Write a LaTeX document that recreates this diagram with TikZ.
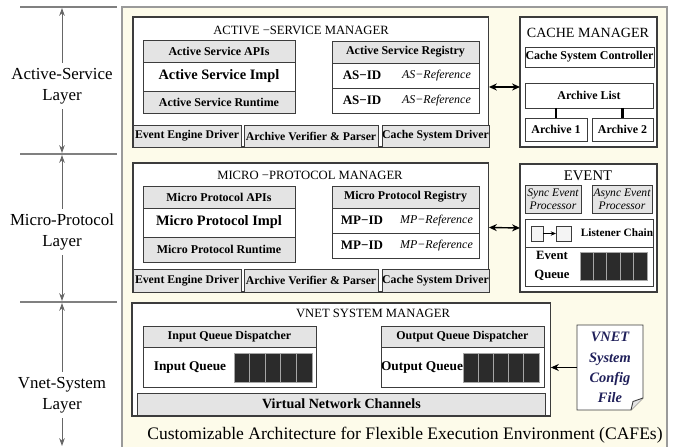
\documentclass[tikz,border=0pt]{standalone}
\usepackage{fontspec}
\setmainfont{Liberation Serif}
\usetikzlibrary{arrows.meta}

\definecolor{panelbg}{HTML}{FDFBEA}
\definecolor{panelline}{HTML}{9A9A9A}
\definecolor{boxline}{HTML}{3C3C3C}
\definecolor{hdrgray}{HTML}{E4E4E4}
\definecolor{cellblk}{HTML}{2B2B2B}
\definecolor{cfgblue}{HTML}{20205A}

\begin{document}
\begin{tikzpicture}[
    x=0.02cm, y=-0.02cm,
    every node/.style={inner sep=0pt, outer sep=0pt},
    mgrbox/.style={draw=boxline, fill=white, line width=0.6pt, anchor=north west},
    plainbox/.style={draw=boxline, fill=white, line width=0.5pt, anchor=north west},
    hdrbox/.style={draw=boxline, fill=hdrgray, line width=0.5pt, anchor=north west,
                   font=\fontsize{6.8}{8}\selectfont\bfseries},
    drvbox/.style={hdrbox, font=\fontsize{6.7}{8}\selectfont\bfseries},
    implbox/.style={plainbox, font=\fontsize{8.2}{10}\selectfont\bfseries},
    cachebox/.style={plainbox, font=\fontsize{6.8}{8}\selectfont\bfseries},
    procbox/.style={hdrbox, align=center, font=\fontsize{6.6}{7.2}\selectfont\itshape},
    qcell/.style={draw=gray!70, fill=cellblk, line width=0.4pt, anchor=north west},
    mgrtitle/.style={font=\fontsize{7.2}{9}\selectfont},
    idtext/.style={font=\fontsize{7.4}{9}\selectfont\bfseries},
    reftext/.style={font=\fontsize{6.8}{8}\selectfont\itshape},
    qtext/.style={font=\fontsize{7.6}{9}\selectfont\bfseries, align=center},
    laylabel/.style={font=\fontsize{9.6}{12}\selectfont, align=center, inner sep=3pt},
    layarrow/.style={draw=gray!80!black, line width=0.5pt, -{Stealth[length=4.5pt,width=3.2pt]}},
    sepline/.style={draw=gray, line width=0.6pt},
    dblarrow/.style={line width=0.8pt, {Stealth[length=4.5pt,width=4pt]}-{Stealth[length=4.5pt,width=4pt]}}
  ]
  \useasboundingbox (0,0) rectangle (674,447);

  % layer column
  \draw[sepline] (20,7) -- (117,7);
  \draw[sepline] (20,154) -- (117,154);
  \draw[sepline] (20,302) -- (117,302);
  \coordinate (s0) at (62,8);
  \coordinate (s1a) at (62,153);
  \coordinate (s1b) at (62,155);
  \coordinate (s2a) at (62,301);
  \coordinate (s2b) at (62,303);
  \coordinate (s3) at (62,446);
  \node[laylabel] (las) at (62,86) {Active-Service\\Layer};
  \node[laylabel] (lmp) at (62,232) {Micro-Protocol\\Layer};
  \node[laylabel] (lvs) at (62,395) {Vnet-System\\Layer};
  \draw[layarrow] (las.north) -- (s0);
  \draw[layarrow] (las.south) -- (s1a);
  \draw[layarrow] (lmp.north) -- (s1b);
  \draw[layarrow] (lmp.south) -- (s2a);
  \draw[layarrow] (lvs.north) -- (s2b);
  \draw[layarrow] (lvs.south) -- (s3);

  % panel
  \fill[panelbg] (122,7) rectangle (667,447);
  \draw[panelline, line width=0.8pt] (122,447) -- (122,7) -- (667,7) -- (667,447);

  % active-service manager
  \node[mgrbox, minimum width=7.12cm, minimum height=2.6cm] (asm) at (133,17) {};
  \node[mgrtitle] (astitle) at (301,30) {ACTIVE −SERVICE MANAGER};
  \node[hdrbox, minimum width=3.04cm, minimum height=0.44cm] (asapi) at (143,40) {Active Service APIs};
  \node[implbox, minimum width=3.04cm, minimum height=0.58cm] (asimpl) at (143,62) {Active Service Impl};
  \node[hdrbox, minimum width=3.04cm, minimum height=0.44cm] (asrun) at (143,91) {Active Service Runtime};
  \node[hdrbox, minimum width=2.94cm, minimum height=0.44cm] (asreg) at (332,41) {Active Service Registry};
  \node[plainbox, minimum width=2.94cm, minimum height=0.5cm] (asr1) at (332,63) {};
  \node[plainbox, minimum width=2.94cm, minimum height=0.5cm] (asr2) at (332,88) {};
  \node[idtext] (asid1) at ([xshift=0.6cm]asr1.west) {AS−ID};
  \node[reftext] (asref1) at ([xshift=-0.85cm]asr1.east) {AS−Reference};
  \node[idtext] (asid2) at ([xshift=0.6cm]asr2.west) {AS−ID};
  \node[reftext] (asref2) at ([xshift=-0.85cm]asr2.east) {AS−Reference};
  \node[drvbox, minimum width=2.16cm, minimum height=0.44cm] (aseed) at (133,125) {Event Engine Driver};
  \node[drvbox, minimum width=2.68cm, minimum height=0.44cm] (asavp) at (244,125) {Archive Verifier \& Parser};
  \node[drvbox, minimum width=2.14cm, minimum height=0.44cm] (ascsd) at (382,125) {Cache System Driver};

  % cache manager
  \node[mgrbox, minimum width=2.74cm, minimum height=2.6cm] (cam) at (520,17) {};
  \node[mgrtitle, font=\fontsize{8}{9}\selectfont] (camtitle) at (588,33) {CACHE MANAGER};
  \node[cachebox, minimum width=2.58cm, minimum height=0.4cm] (csc) at (525,47) {Cache System Controller};
  \node[cachebox, minimum width=2.56cm, minimum height=0.5cm] (arl) at (525,83) {Archive List};
  \node[cachebox, minimum width=1.24cm, minimum height=0.46cm] (ar1) at (525,118) {Archive 1};
  \node[cachebox, minimum width=1.22cm, minimum height=0.46cm] (ar2) at (592,118) {Archive 2};
  \draw[line width=1.4pt] (arl.south -| ar1.north) -- (ar1.north);
  \draw[line width=1.4pt] (arl.south -| ar2.north) -- (ar2.north);

  \draw[dblarrow] ([yshift=-0.1cm]asm.east) -- ([yshift=-0.1cm]cam.west);

  % micro-protocol manager
  \node[mgrbox, minimum width=7.12cm, minimum height=2.58cm] (mpm) at (133,163) {};
  \node[mgrtitle] (mptitle) at (310,175) {MICRO −PROTOCOL MANAGER};
  \node[hdrbox, minimum width=3.04cm, minimum height=0.44cm] (mpapi) at (143,186) {Micro Protocol APIs};
  \node[implbox, minimum width=3.04cm, minimum height=0.58cm] (mpimpl) at (143,208) {Micro Protocol Impl};
  \node[hdrbox, minimum width=3.04cm, minimum height=0.5cm] (mprun) at (143,237) {Micro Protocol Runtime};
  \node[hdrbox, minimum width=2.94cm, minimum height=0.44cm] (mpreg) at (332,186) {Micro Protocol Registry};
  \node[plainbox, minimum width=2.94cm, minimum height=0.5cm] (mpr1) at (332,208) {};
  \node[plainbox, minimum width=2.94cm, minimum height=0.5cm] (mpr2) at (332,233) {};
  \node[idtext] (mpid1) at ([xshift=0.6cm]mpr1.west) {MP−ID};
  \node[reftext] (mpref1) at ([xshift=-0.85cm]mpr1.east) {MP−Reference};
  \node[idtext] (mpid2) at ([xshift=0.6cm]mpr2.west) {MP−ID};
  \node[reftext] (mpref2) at ([xshift=-0.85cm]mpr2.east) {MP−Reference};
  \node[drvbox, minimum width=2.16cm, minimum height=0.46cm] (mpeed) at (133,269) {Event Engine Driver};
  \node[drvbox, minimum width=2.68cm, minimum height=0.46cm] (mpavp) at (244,269) {Archive Verifier \& Parser};
  \node[drvbox, minimum width=2.14cm, minimum height=0.46cm] (mpcsd) at (382,269) {Cache System Driver};

  % event
  \node[mgrbox, minimum width=2.74cm, minimum height=2.56cm] (evm) at (520,164) {};
  \node[mgrtitle, font=\fontsize{8.4}{9}\selectfont] (evtitle) at (588,176) {EVENT};
  \node[procbox, minimum width=1.12cm, minimum height=0.56cm] (sync) at (525,185) {Sync Event\\Processor};
  \node[procbox, minimum width=1.2cm, minimum height=0.56cm] (async) at (592,185) {Async Event\\Processor};
  \node[plainbox, minimum width=2.56cm, minimum height=0.56cm] (lsn) at (525,219) {};
  \node[plainbox, fill=hdrgray!40, minimum width=0.24cm, minimum height=0.3cm] (sq1) at (531,226) {};
  \node[plainbox, fill=hdrgray!40, minimum width=0.3cm, minimum height=0.3cm] (sq2) at (556,226) {};
  \draw[line width=0.5pt, -{Stealth[length=3pt,width=2.5pt]}] (sq1.east) -- (sq2.west);
  \node[qtext, font=\fontsize{6.4}{8}\selectfont\bfseries] (lsntext) at (617,233) {Listener Chain};
  \node[plainbox, minimum width=2.56cm, minimum height=0.78cm] (evq) at (525,247) {};
  \node[qtext, font=\fontsize{7.2}{10.5}\selectfont\bfseries] (evqtext) at (552,266) {Event\\Queue};
  \foreach \i in {0,...,4}
    \node[qcell, minimum width=0.268cm, minimum height=0.56cm] (eq\i) at (580+\i*13.4,252) {};

  \draw[dblarrow] (mpm.east) -- (evm.west);

  % vnet system manager
  \node[mgrbox, minimum width=8.38cm, minimum height=2.26cm] (vsm) at (132,303) {};
  \node[mgrtitle] (vstitle) at (373,313) {VNET SYSTEM MANAGER};
  \node[hdrbox, minimum width=3.46cm, minimum height=0.42cm] (iqd) at (143,326) {Input Queue Dispatcher};
  \node[plainbox, minimum width=3.46cm, minimum height=0.8cm] (iqb) at (143,347) {};
  \node[qtext] (iqtext) at (190,367) {Input Queue};
  \foreach \i in {0,...,4}
    \node[qcell, minimum width=0.312cm, minimum height=0.58cm] (iq\i) at (234+\i*15.6,353) {};
  \node[hdrbox, minimum width=3.26cm, minimum height=0.42cm] (oqd) at (381,326) {Output Queue Dispatcher};
  \node[plainbox, minimum width=3.26cm, minimum height=0.8cm] (oqb) at (381,347) {};
  \node[qtext] (oqtext) at (422,367) {Output Queue};
  \foreach \i in {0,...,4}
    \node[qcell, minimum width=0.304cm, minimum height=0.58cm] (oq\i) at (463+\i*15.2,353) {};
  \node[hdrbox, font=\fontsize{8}{9}\selectfont\bfseries, minimum width=8.18cm, minimum height=0.44cm] (vnc) at (137,393) {Virtual Network Channels};

  % config file
  \coordinate (cfgnw) at (577,325);
  \coordinate (cfgse) at (643,410);
  \draw[boxline, line width=0.5pt, fill=white]
    (cfgnw) -- (cfgnw -| cfgse) -- ([yshift=0.24cm]cfgse)
    -- ([xshift=-0.24cm]cfgse) -- (cfgnw |- cfgse) -- cycle;
  \draw[boxline, line width=0.5pt, fill=hdrgray]
    ([yshift=0.24cm]cfgse) -- ([xshift=-0.2cm,yshift=0.17cm]cfgse) -- ([xshift=-0.24cm]cfgse);
  \node[anchor=north west, minimum width=1.32cm, minimum height=1.7cm, align=center,
        text=cfgblue, font=\fontsize{8.2}{11.5}\selectfont\bfseries\itshape] (cfg) at (cfgnw) {VNET\\System\\Config\\File};
  \draw[line width=0.6pt, -{Stealth[length=4.5pt,width=4pt]}] (cfg.west) -- (cfg.west -| vsm.east);

  \node[font=\fontsize{10}{12}\selectfont] (caption) at (405,435)
    {Customizable Architecture for Flexible Execution Environment (CAFEs)};
\end{tikzpicture}
\end{document}
